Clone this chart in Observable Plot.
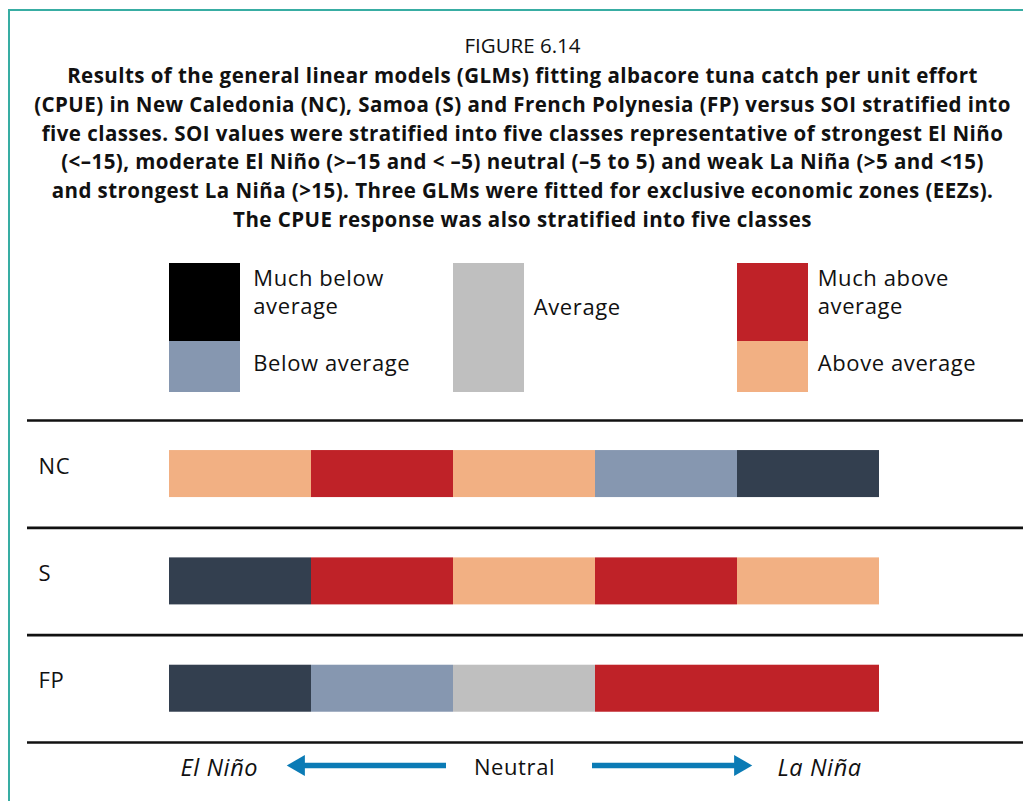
<!DOCTYPE html>
<html>
<head>
<meta charset="utf-8">
<script src="https://cdn.jsdelivr.net/npm/d3@7"></script>
<script src="https://cdn.jsdelivr.net/npm/@observablehq/plot@0.6"></script>
<style>
  html, body { margin: 0; padding: 0; background: #fff; }
  #page { position: relative; width: 1023px; height: 801px; overflow: hidden; font-family: "Open Sans", "Noto Sans", sans-serif; color: #111; }
  #frame { position: absolute; left: 8px; top: 9px; width: 1100px; height: 900px; border-left: 2px solid #38ada3; border-top: 2px solid #38ada3; }
  #fig { position: absolute; top: 31px; left: 0; width: 1045px; text-align: center; font-size: 20.5px; line-height: 28px; letter-spacing: 0px; }
  #title { position: absolute; top: 61px; left: 0; width: 1045px; text-align: center; font-size: 20.5px; font-weight: 700; line-height: 28.8px; letter-spacing: 0.45px; white-space: nowrap; }
  #chart { position: absolute; left: 0; top: 250px; }
</style>
</head>
<body>
<div id="page">
  <div id="frame"></div>
  <div id="fig">FIGURE 6.14</div>
  <div id="title"></div>
  <div id="chart"></div>
</div>
<script>
// ---- data ----
const titleLines = [
  "Results of the general linear models (GLMs) fitting albacore tuna catch per unit effort",
  "(CPUE) in New Caledonia (NC), Samoa (S) and French Polynesia (FP) versus SOI stratified into",
  "five classes. SOI values were stratified into five classes representative of strongest El Niño",
  "(<\u201315), moderate El Niño (>\u201315 and < \u20135) neutral (\u20135 to 5) and weak La Niña (>5 and <15)",
  "and strongest La Niña (>15). Three GLMs were fitted for exclusive economic zones (EEZs).",
  "The CPUE response was also stratified into five classes"
];
const cpueClasses = ["Much below average", "Below average", "Average", "Much above average", "Above average"];
const legendLabels = ["Much below\naverage", "Below average", "Average", "Much above\naverage", "Above average"];
const legendColors = ["#000000", "#8697b0", "#bfbfbf", "#bf2228", "#f2b083"];
const barColors   = ["#333f4f", "#8697b0", "#bfbfbf", "#bf2228", "#f2b083"];
const regions = ["NC", "S", "FP"];
const soiClasses = ["Strongest El Niño", "Moderate El Niño", "Neutral", "Weak La Niña", "Strongest La Niña"];
const ncValues = ["Above average", "Much above average", "Above average", "Below average", "Much below average"];
const sValues  = ["Much below average", "Much above average", "Above average", "Much above average", "Above average"];
const fpValues = ["Much below average", "Below average", "Average", "Much above average", "Much above average"];
const axisLabels = ["El Niño", "Neutral", "La Niña"];

document.getElementById("title").innerHTML = titleLines.map(l => l.replace(/&/g,"&amp;").replace(/</g,"&lt;").replace(/>/g,"&gt;")).join("<br>");

// ---- table ----
const series = {NC: ncValues, S: sValues, FP: fpValues};
const cells = [];
regions.forEach((r, ri) => series[r].forEach((c, si) => cells.push({region: r, row: ri, soi: soiClasses[si], i: si, cls: c})));

// ---- layout (row units: each region row spans [row, row+1]) ----
const PX = 322 / 3;                      // pixels per row unit
const yu = px => (px - 170) / PX;         // convert svg-local pixel to row unit
const legendTop = yu(13), legendMid = yu(91), legendBot = yu(142);
const legendItems = [
  {cls: cpueClasses[0], col: 0, y1: legendTop, y2: legendMid, ty: yu(40.5), color: legendColors[0], label: legendLabels[0]},
  {cls: cpueClasses[1], col: 0, y1: legendMid, y2: legendBot, ty: yu(111.5), color: legendColors[1], label: legendLabels[1]},
  {cls: cpueClasses[2], col: 1, y1: legendTop, y2: legendBot, ty: yu(55.5), color: legendColors[2], label: legendLabels[2]},
  {cls: cpueClasses[3], col: 2, y1: legendTop, y2: legendMid, ty: yu(40.5), color: legendColors[3], label: legendLabels[3]},
  {cls: cpueClasses[4], col: 2, y1: legendMid, y2: legendBot, ty: yu(111.5), color: legendColors[4], label: legendLabels[4]}
];
const legendTextOffset = [0.59, 0.565, 0.565];
const arrowY = yu(515);
const labelY = yu(517.5);
const arrowColor = "#0b7bb5";
const headR = 10;
const headOff = (2/3) * 23 / 142; // centroid offset from tip, in x units

const chart = Plot.plot({
  width: 1023,
  height: 551,
  margin: 0,
  style: {fontFamily: "'Open Sans', 'Noto Sans', sans-serif", color: "#111", background: "transparent", overflow: "visible", letterSpacing: "0.6px"},
  x: {domain: [0, 5], range: [169, 879], axis: null},
  y: {domain: [0, 3], range: [170, 492], axis: null},
  color: {domain: cpueClasses, range: barColors},
  marks: [
    // legend
    Plot.rect(legendItems, {x1: d => d.col * 2, x2: d => d.col * 2 + 0.5, y1: "y1", y2: "y2", fill: "color"}),
    Plot.text(legendItems, {x: d => d.col * 2 + legendTextOffset[d.col], y: "ty", text: "label", textAnchor: "start", fontSize: 22, lineHeight: 1.27, fill: "#111"}),
    // separators
    Plot.ruleY([0, 1, 2, 3], {x1: -1, x2: 6.2, stroke: "#111", strokeWidth: 2.6}),
    // region labels
    Plot.text(regions, {x: -0.922, y: (d, i) => i + 0.43, text: d => d, textAnchor: "start", fontSize: 22, fill: "#111"}),
    // bars
    Plot.rect(cells, {x1: "i", x2: d => d.i + 1, y1: d => d.row + 0.28, y2: d => d.row + 0.718, fill: "cls"}),
    // bottom direction arrows
    Plot.ruleY([arrowY], {x1: (303 - 169) / 142, x2: (446 - 169) / 142, stroke: arrowColor, strokeWidth: 5.5}),
    Plot.ruleY([arrowY], {x1: (592 - 169) / 142, x2: (737 - 169) / 142, stroke: arrowColor, strokeWidth: 5.5}),
    Plot.dot([{x: (283 - 169) / 142 + headOff, r: -90}, {x: (755 - 169) / 142 - headOff, r: 90}],
      {x: "x", y: () => arrowY, symbol: "triangle2", r: headR, rotate: "r", fill: arrowColor, stroke: "none"}),
    Plot.text([axisLabels[0]], {x: (180 - 169) / 142, y: labelY, text: d => d, textAnchor: "start", fontSize: 23.5, fontStyle: "italic", fill: "#111"}),
    Plot.text([axisLabels[1]], {x: (514 - 169) / 142, y: labelY, text: d => d, textAnchor: "middle", fontSize: 22, fill: "#111"}),
    Plot.text([axisLabels[2]], {x: (777 - 169) / 142, y: labelY, text: d => d, textAnchor: "start", fontSize: 23.5, fontStyle: "italic", fill: "#111"})
  ]
});
document.getElementById("chart").appendChild(chart);
</script>
</body>
</html>
